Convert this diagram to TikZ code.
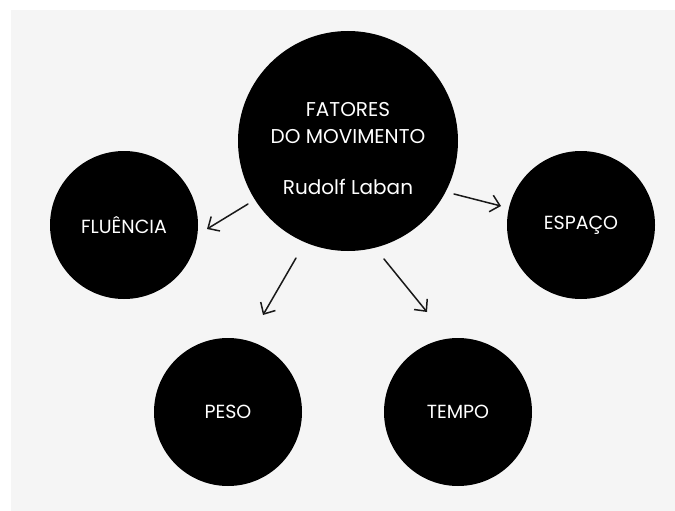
\documentclass[tikz,border=0pt]{standalone}
\usepackage{fontspec}
\setmainfont{Poppins}
\usetikzlibrary{arrows.meta}
\definecolor{bggray}{HTML}{F5F5F5}
\tikzset{
  bigdisc/.style={circle,fill=black,draw=none,minimum size=220pt,inner sep=0pt},
  disc/.style={circle,fill=black,draw=none,minimum size=148pt,inner sep=0pt,
    text=white,font=\fontsize{19}{23}\selectfont},
  maintext/.style={text=white,align=center,font=\fontsize{20}{27}\selectfont,inner sep=0pt},
  conn/.style={line width=1.5pt,line cap=round,black!90,
    -{Straight Barb[length=9pt,width=17pt,line width=1.5pt]}}
}
\begin{document}
\begin{tikzpicture}[x=1pt,y=-1pt]
\useasboundingbox (0,0) rectangle (675,511);
\fill[white] (0,0) rectangle (675,511);
\fill[bggray] (11,10) rectangle (675,511);
\node[bigdisc] (c) at (348,141) {};
\node[maintext] (ctext) at (348,149) {FATORES\\DO MOVIMENTO\\[24pt]Rudolf Laban};
\node[disc] (flu) at (124,225) {FLUÊNCIA};
\node[disc] (esp) at (581,225) {ESPAÇO};
\node[disc] (pes) at (228,412) {PESO};
\node[disc] (tem) at (458,412) {TEMPO};
\coordinate (s1) at (248,204); \coordinate (e1) at (207,229);
\coordinate (s2) at (454,194); \coordinate (e2) at (501,206);
\coordinate (s3) at (296,258); \coordinate (e3) at (263,315);
\coordinate (s4) at (384,259); \coordinate (e4) at (427,312);
\draw[conn] (s1) -- (e1);
\draw[conn] (s2) -- (e2);
\draw[conn] (s3) -- (e3);
\draw[conn] (s4) -- (e4);
\end{tikzpicture}
\end{document}
